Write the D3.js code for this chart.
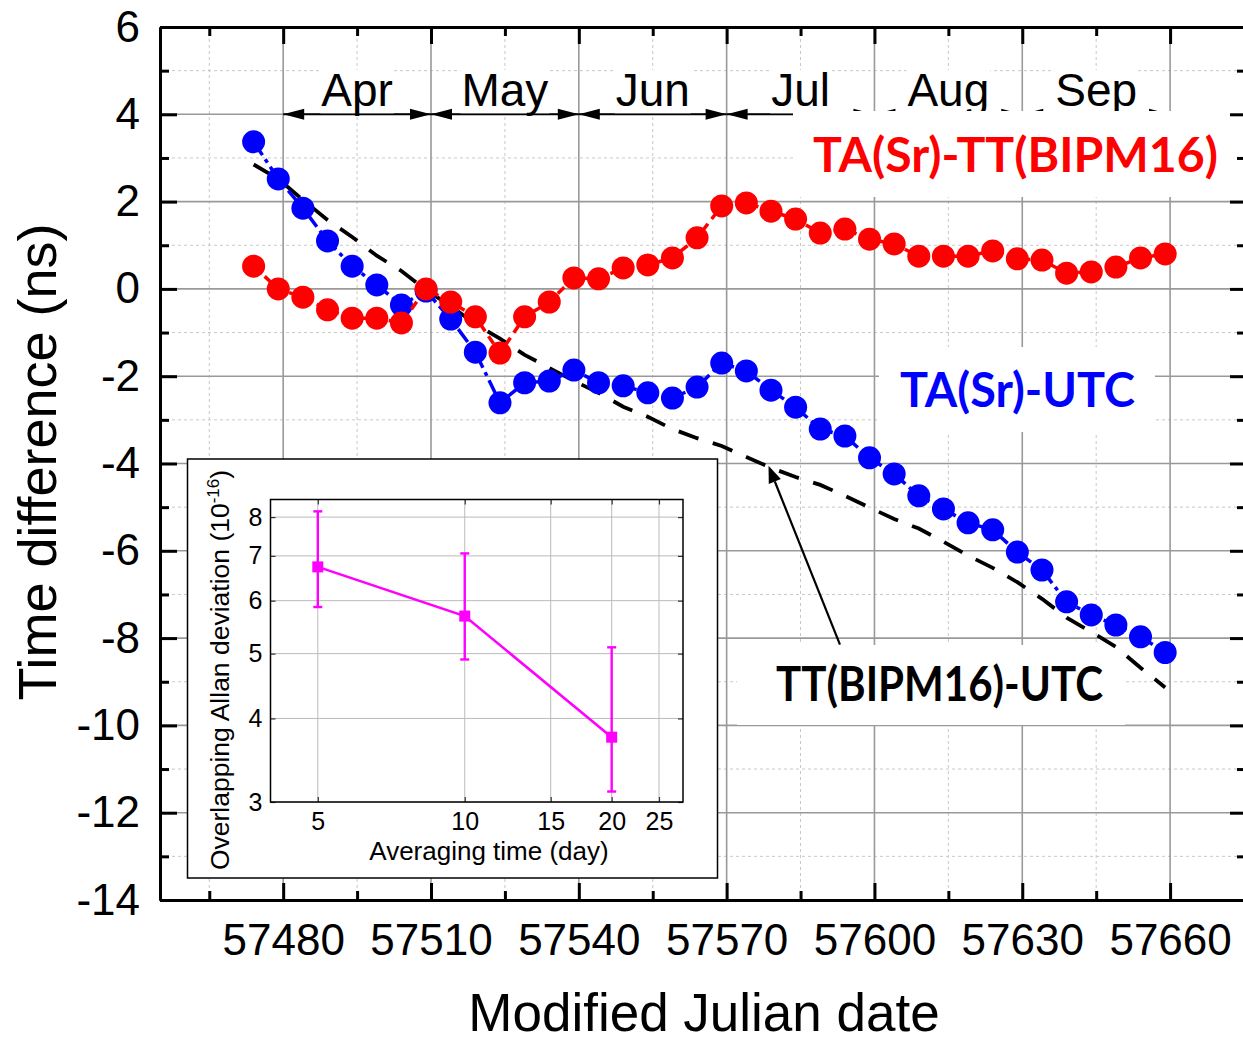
<!DOCTYPE html>
<html><head><meta charset="utf-8">
<script src="https://cdn.jsdelivr.net/npm/d3@7"></script>
<style>body{margin:0;background:#fff} svg{display:block}</style>
</head><body>
<svg id="c" width="1243" height="1041"></svg>
<script>
// ---------- data ----------
const mjd = [57474,57479,57484,57489,57494,57499,57504,57509,57514,57519,57524,57529,57534,57539,57544,57549,57554,57559,57564,57569,57574,57579,57584,57589,57594,57599,57604,57609,57614,57619,57624,57629,57634,57639,57644,57649,57654,57659];
const taSrMinusTT = [0.52,0.00,-0.19,-0.48,-0.67,-0.67,-0.78,0.00,-0.30,-0.64,-1.47,-0.64,-0.30,0.25,0.23,0.48,0.55,0.71,1.17,1.90,1.97,1.78,1.60,1.28,1.37,1.14,1.03,0.75,0.75,0.75,0.87,0.69,0.66,0.36,0.39,0.50,0.71,0.80];
const taSrMinusUTC = [3.37,2.52,1.85,1.10,0.52,0.09,-0.37,-0.05,-0.69,-1.45,-2.61,-2.15,-2.11,-1.86,-2.15,-2.22,-2.38,-2.50,-2.25,-1.70,-1.88,-2.32,-2.71,-3.21,-3.37,-3.87,-4.24,-4.74,-5.04,-5.36,-5.52,-6.03,-6.44,-7.17,-7.47,-7.70,-7.97,-8.33];
const ttMinusUTC = [2.85,2.52,2.04,1.58,1.19,0.76,0.41,-0.03,-0.39,-0.81,-1.14,-1.51,-1.81,-2.11,-2.38,-2.70,-2.93,-3.21,-3.42,-3.60,-3.85,-4.10,-4.31,-4.49,-4.74,-5.01,-5.27,-5.49,-5.79,-6.11,-6.39,-6.72,-7.10,-7.53,-7.86,-8.20,-8.68,-9.13];
const xTicks = [57480,57510,57540,57570,57600,57630,57660];
const xMinor = [57465,57495,57525,57555,57585,57615,57645];
const yTicks = [-14,-12,-10,-8,-6,-4,-2,0,2,4,6];
const yMinor = [-13,-11,-9,-7,-5,-3,-1,1,3,5];
const months = ["Apr","May","Jun","Jul","Aug","Sep"];
const monthStart = [57480,57510,57540,57570,57600,57630];
const monthEnd = [57510,57540,57570,57600,57630,57660];
const annotTail = [57593, -8.15];
const annotTip = [57578.5, -4.05];
// inset
const allanTau = [5,10,20];
const allanDev = [6.74,5.69,3.75];
const allanHi = [8.16,7.06,5.11];
const allanLo = [5.87,4.90,3.11];
const insetXTicks = [5,10,15,20,25];
const insetYTicks = [3,4,5,6,7,8];

// ---------- layout ----------
const svg = d3.select("#c");
svg.append("rect").attr("width",1243).attr("height",1041).attr("fill","#fff");
const L=160, R=1244, T=27, B=900;
const x = d3.scaleLinear().domain([57455,57675]).range([L,R]);
const y = d3.scaleLinear().domain([-14,6]).range([B,T]);
const font = "'Liberation Sans', Arial, sans-serif";
const lab = "Lato, 'Open Sans', sans-serif";

// grid
const grid = svg.append("g");
xMinor.forEach(v=>grid.append("line").attr("x1",x(v)).attr("x2",x(v)).attr("y1",T).attr("y2",B)
  .attr("stroke","#c8c8c8").attr("stroke-width",1).attr("stroke-dasharray","3,3"));
yMinor.forEach(v=>grid.append("line").attr("x1",L).attr("x2",R).attr("y1",y(v)).attr("y2",y(v))
  .attr("stroke","#c8c8c8").attr("stroke-width",1).attr("stroke-dasharray","3,3"));
xTicks.forEach(v=>grid.append("line").attr("x1",x(v)).attr("x2",x(v)).attr("y1",T).attr("y2",B)
  .attr("stroke","#999").attr("stroke-width",1.6));
yTicks.forEach(v=>grid.append("line").attr("x1",L).attr("x2",R).attr("y1",y(v)).attr("y2",y(v))
  .attr("stroke","#999").attr("stroke-width",1.6));

// month arrows and labels
const ann = svg.append("g");
const ay = y(4);
function head(xt, dir){
  const hl=21, hw=5.5;
  ann.append("path").attr("d",`M${xt},${ay} L${xt-dir*hl},${ay-hw} L${xt-dir*hl},${ay+hw} Z`).attr("fill","#000");
}
months.forEach((m,i)=>{
  const x1=x(monthStart[i]), x2=x(monthEnd[i]);
  ann.append("line").attr("x1",x1).attr("x2",x2).attr("y1",ay).attr("y2",ay).attr("stroke","#000").attr("stroke-width",2);
  head(x1,-1); head(x2,1);
});
months.forEach((m,i)=>{
  const cx = x((monthStart[i]+monthEnd[i])/2);
  const t = ann.append("text").attr("x",cx).attr("y",106).attr("text-anchor","middle")
    .attr("font-family",font).attr("font-size",46).attr("fill","#000").text(m);
  const bb = t.node().getBBox();
  ann.insert("rect", () => t.node()).attr("x",bb.x-1).attr("y",70).attr("width",bb.width+2).attr("height",ay-1-70).attr("fill","#fff");
});

// label boxes
function labelBox(x0,y0,x1,y1){ svg.append("rect").attr("x",x0).attr("y",y0).attr("width",x1-x0).attr("height",y1-y0).attr("fill","#fff"); }
labelBox(793,111,1243,197);
labelBox(879,347,1155,432);
labelBox(737,645,1125,725);
function label(txt,x0,yb,len,col){
  svg.append("text").attr("x",x0).attr("y",yb).attr("font-family",lab).attr("font-weight",700)
    .attr("font-size",47).attr("fill",col).attr("textLength",len).attr("lengthAdjust","spacingAndGlyphs").text(txt);
}
label("TA(Sr)-TT(BIPM16)",813,172,405,"#ff0000");
label("TA(Sr)-UTC",900,407,235,"#0000ff");
label("TT(BIPM16)-UTC",776,701,327,"#000");

// series
const idx = d3.range(mjd.length);
const line = arr => d3.line().x(i=>x(mjd[i])).y(i=>y(arr[i]))(idx);
svg.append("path").attr("d",line(ttMinusUTC)).attr("fill","none").attr("stroke","#000").attr("stroke-width",3.8).attr("stroke-dasharray","21,15");
svg.append("path").attr("d",line(taSrMinusUTC)).attr("fill","none").attr("stroke","#0000ff").attr("stroke-width",3.5).attr("stroke-dasharray","16,5,4,5");
svg.append("g").selectAll("circle").data(idx).join("circle").attr("cx",i=>x(mjd[i])).attr("cy",i=>y(taSrMinusUTC[i])).attr("r",11.5).attr("fill","#0000ff");
svg.append("path").attr("d",line(taSrMinusTT)).attr("fill","none").attr("stroke","#ff0000").attr("stroke-width",3.5).attr("stroke-dasharray","9,6");
svg.append("g").selectAll("circle").data(idx).join("circle").attr("cx",i=>x(mjd[i])).attr("cy",i=>y(taSrMinusTT[i])).attr("r",11.5).attr("fill","#ff0000");

// annotation arrow
{
  const x0=x(annotTail[0]), y0=y(annotTail[1]), x1=x(annotTip[0]), y1=y(annotTip[1]);
  const ang=Math.atan2(y1-y0,x1-x0), hl=17, hw=6.5;
  const bx=x1-hl*Math.cos(ang), by=y1-hl*Math.sin(ang);
  svg.append("line").attr("x1",x0).attr("y1",y0).attr("x2",bx).attr("y2",by).attr("stroke","#000").attr("stroke-width",2.2);
  const px=-Math.sin(ang), py=Math.cos(ang);
  svg.append("path").attr("d",`M${x1},${y1} L${bx+px*hw},${by+py*hw} L${bx-px*hw},${by-py*hw} Z`).attr("fill","#000");
}

// axes
const fmt = d=>String(d);
function styleAxis(g){ g.select(".domain").attr("stroke-width",3); g.selectAll(".tick line").attr("stroke-width",3); g.attr("font-family",font); }
svg.append("g").attr("transform",`translate(${L},0)`).call(d3.axisLeft(y).tickValues(yMinor).tickSize(-9).tickSizeOuter(0).tickFormat("")).call(styleAxis);
svg.append("g").attr("transform",`translate(${L},0)`).call(d3.axisLeft(y).tickValues(yTicks).tickSize(-17).tickSizeOuter(0).tickPadding(20).tickFormat(fmt)).call(styleAxis).attr("font-size",44);
svg.append("g").attr("transform",`translate(${R},0)`).call(d3.axisRight(y).tickValues(yMinor).tickSize(-7).tickSizeOuter(0).tickFormat("")).call(styleAxis);
svg.append("g").attr("transform",`translate(${R},0)`).call(d3.axisRight(y).tickValues(yTicks).tickSize(-14).tickSizeOuter(0).tickFormat("")).call(styleAxis);
svg.append("g").attr("transform",`translate(0,${B})`).call(d3.axisBottom(x).tickValues(xMinor).tickSize(-9).tickSizeOuter(0).tickFormat("")).call(styleAxis);
svg.append("g").attr("transform",`translate(0,${B})`).call(d3.axisBottom(x).tickValues(xTicks).tickSize(-17).tickSizeOuter(0).tickPadding(24).tickFormat(fmt)).call(styleAxis).attr("font-size",44);
svg.append("g").attr("transform",`translate(0,${T})`).call(d3.axisTop(x).tickValues(xMinor).tickSize(-9).tickSizeOuter(0).tickFormat("")).call(styleAxis);
svg.append("g").attr("transform",`translate(0,${T})`).call(d3.axisTop(x).tickValues(xTicks).tickSize(-17).tickSizeOuter(0).tickFormat("")).call(styleAxis);
svg.selectAll(".tick text").attr("fill","#000");

// titles
svg.append("text").attr("transform","translate(56,462) rotate(-90)").attr("text-anchor","middle")
  .attr("font-family",font).attr("font-size",54).text("Time difference (ns)");
svg.append("text").attr("x",704).attr("y",1031).attr("text-anchor","middle")
  .attr("font-family",font).attr("font-size",53).text("Modified Julian date");

// ---------- inset ----------
const ins = svg.append("g");
ins.append("rect").attr("x",187.5).attr("y",459).attr("width",530).attr("height",419).attr("fill","#fff").attr("stroke","#000").attr("stroke-width",1.5);
const iL=270.5, iR=683, iT=499.5, iB=802;
const ix = d3.scaleLog().domain([4,28]).range([iL,iR]);
const iy = d3.scaleLog().domain([3,8.5]).range([iB,iT]);
insetXTicks.forEach(v=>ins.append("line").attr("x1",ix(v)).attr("x2",ix(v)).attr("y1",iT).attr("y2",iB).attr("stroke","#bbb").attr("stroke-width",1));
insetYTicks.forEach(v=>ins.append("line").attr("x1",iL).attr("x2",iR).attr("y1",iy(v)).attr("y2",iy(v)).attr("stroke","#bbb").attr("stroke-width",1));
function istyle(g){ g.select(".domain").remove(); g.selectAll(".tick line").attr("stroke","#333").attr("stroke-width",1.2); g.attr("font-family",font).attr("font-size",25); g.selectAll(".tick text").attr("fill","#000"); }
ins.append("g").attr("transform",`translate(${iL},0)`).call(d3.axisLeft(iy).tickValues(insetYTicks).tickSize(-5).tickPadding(8).tickFormat(fmt)).call(istyle);
ins.append("g").attr("transform",`translate(${iR},0)`).call(d3.axisRight(iy).tickValues(insetYTicks).tickSize(-5).tickFormat("")).call(istyle);
ins.append("g").attr("transform",`translate(0,${iB})`).call(d3.axisBottom(ix).tickValues(insetXTicks).tickSize(-5).tickPadding(10).tickFormat(fmt)).call(istyle);
ins.append("g").attr("transform",`translate(0,${iT})`).call(d3.axisTop(ix).tickValues(insetXTicks).tickSize(-5).tickFormat("")).call(istyle);
ins.append("rect").attr("x",iL).attr("y",iT).attr("width",iR-iL).attr("height",iB-iT).attr("fill","none").attr("stroke","#000").attr("stroke-width",1.5);
const mag="#ff00ff";
const ii = d3.range(allanTau.length);
ins.append("path").attr("d",d3.line().x(i=>ix(allanTau[i])).y(i=>iy(allanDev[i]))(ii)).attr("fill","none").attr("stroke",mag).attr("stroke-width",2.6);
ii.forEach(i=>{
  const cx=ix(allanTau[i]);
  ins.append("line").attr("x1",cx).attr("x2",cx).attr("y1",iy(allanHi[i])).attr("y2",iy(allanLo[i])).attr("stroke",mag).attr("stroke-width",2.4);
  [allanHi[i],allanLo[i]].forEach(v=>ins.append("line").attr("x1",cx-4.5).attr("x2",cx+4.5).attr("y1",iy(v)).attr("y2",iy(v)).attr("stroke",mag).attr("stroke-width",2.4));
  ins.append("rect").attr("x",cx-5.5).attr("y",iy(allanDev[i])-5.5).attr("width",11).attr("height",11).attr("fill",mag);
});
ins.append("text").attr("x",489).attr("y",860).attr("text-anchor","middle").attr("font-family",font).attr("font-size",26).text("Averaging time (day)");
const yt = ins.append("text").attr("transform","translate(229,670) rotate(-90)").attr("text-anchor","middle").attr("font-family",font).attr("font-size",26.5);
yt.append("tspan").text("Overlapping Allan deviation (10");
yt.append("tspan").attr("font-size",17).attr("dy",-10).text("-16");
yt.append("tspan").attr("dy",10).text(")");
</script>
</body></html>
